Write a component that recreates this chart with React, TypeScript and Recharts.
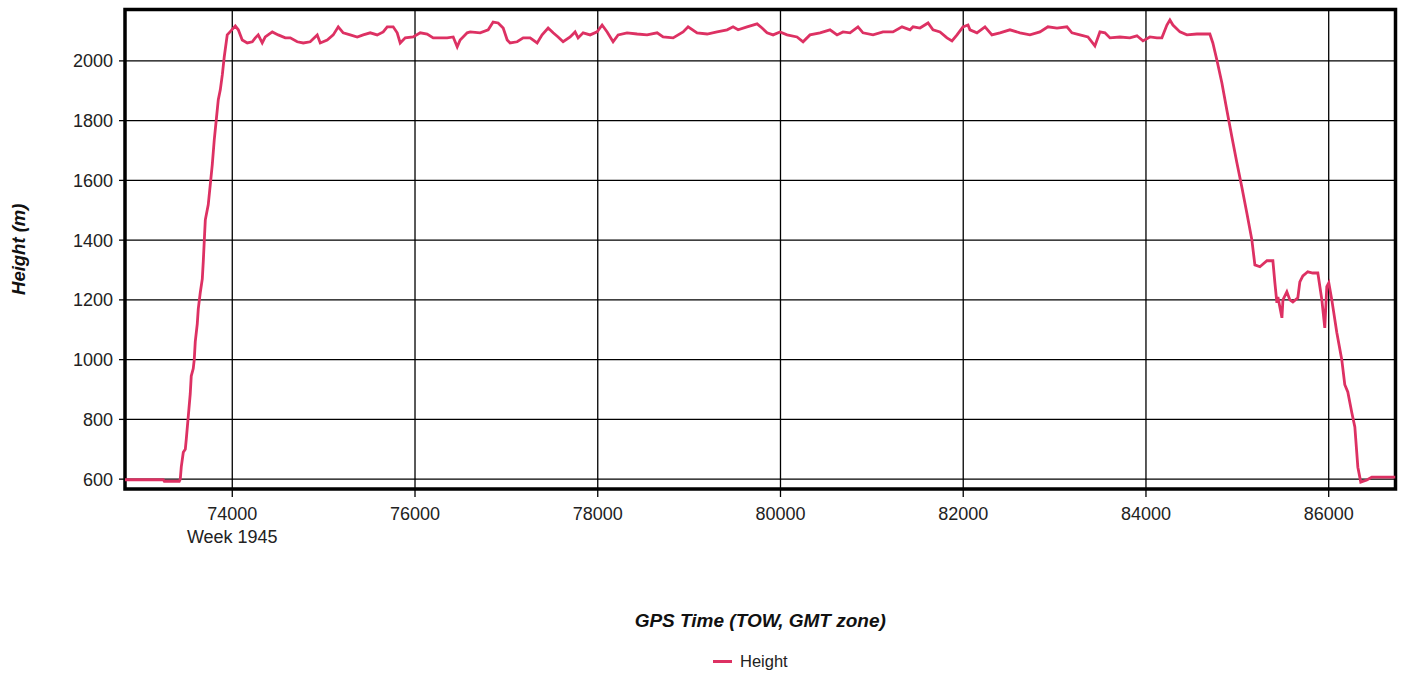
import React from 'react'
import { LineChart, Line, XAxis, YAxis, CartesianGrid, ReferenceArea, Label } from 'recharts'

// GPS time of week (s) and height (m)
const times = [
  72826, 73245, 73256, 73420, 73431, 73442, 73464, 73486, 73497, 73519, 73540, 73551, 73573, 73584,
  73595, 73617, 73628, 73650, 73672, 73683, 73694, 73705, 73737, 73759, 73781, 73803, 73825, 73847,
  73869, 73891, 73912, 73945, 73978, 74033, 74066, 74109, 74164, 74219, 74252, 74284, 74328, 74361,
  74438, 74503, 74580, 74635, 74711, 74777, 74853, 74930, 74963, 75039, 75105, 75160, 75214, 75291,
  75368, 75433, 75510, 75586, 75652, 75696, 75761, 75805, 75838, 75893, 75980, 76057, 76133, 76199,
  76276, 76352, 76418, 76462, 76494, 76571, 76604, 76713, 76801, 76855, 76910, 76965, 77009, 77041,
  77118, 77184, 77260, 77337, 77391, 77457, 77512, 77566, 77621, 77698, 77752, 77785, 77840, 77917,
  77993, 78048, 78103, 78168, 78223, 78321, 78431, 78540, 78650, 78715, 78825, 78934, 78989, 79087,
  79197, 79306, 79416, 79481, 79536, 79634, 79744, 79798, 79853, 79919, 79995, 80072, 80181, 80247,
  80323, 80433, 80542, 80619, 80684, 80761, 80848, 80903, 81013, 81122, 81231, 81330, 81418, 81451,
  81527, 81615, 81669, 81746, 81822, 81877, 81932, 81997, 82052, 82074, 82150, 82238, 82314, 82402,
  82511, 82621, 82730, 82840, 82927, 83026, 83135, 83190, 83277, 83365, 83441, 83496, 83551, 83606,
  83715, 83824, 83901, 83967, 84043, 84120, 84174, 84229, 84262, 84295, 84372, 84448, 84557, 84699,
  84732, 84776, 84831, 84885, 84940, 84995, 85049, 85104, 85159, 85192, 85247, 85324, 85389, 85411,
  85433, 85444, 85488, 85499, 85542, 85575, 85608, 85662, 85684, 85717, 85771, 85826, 85881, 85925,
  85957, 85979, 86001, 86034, 86089, 86143, 86176, 86209, 86253, 86286, 86319, 86351, 86417, 86472,
  86731,
]
const heights = [
  598, 598, 593, 593, 600, 641, 690, 700, 735, 812, 885, 945, 970, 1000,
  1060, 1120, 1170, 1225, 1270, 1330, 1400, 1468, 1518, 1585, 1652, 1736, 1803, 1870,
  1903, 1953, 2013, 2087, 2098, 2117, 2104, 2070, 2060, 2064, 2077, 2087, 2060, 2080,
  2097, 2087, 2077, 2077, 2064, 2060, 2064, 2087, 2060, 2070, 2087, 2114, 2094, 2087,
  2080, 2087, 2094, 2087, 2097, 2114, 2114, 2094, 2060, 2077, 2080, 2094, 2090, 2077,
  2077, 2077, 2080, 2047, 2070, 2094, 2097, 2094, 2104, 2130, 2127, 2110, 2070, 2060,
  2064, 2077, 2077, 2060, 2087, 2110, 2094, 2080, 2064, 2080, 2097, 2077, 2094, 2087,
  2097, 2120, 2097, 2064, 2087, 2094, 2090, 2087, 2094, 2080, 2077, 2097, 2114, 2094,
  2090, 2097, 2104, 2114, 2104, 2114, 2124, 2110, 2094, 2087, 2097, 2087, 2080, 2064,
  2087, 2094, 2104, 2087, 2097, 2094, 2114, 2094, 2087, 2097, 2097, 2114, 2104, 2114,
  2110, 2127, 2104, 2097, 2077, 2067, 2087, 2114, 2120, 2104, 2094, 2114, 2087, 2094,
  2104, 2094, 2087, 2097, 2114, 2110, 2114, 2094, 2087, 2080, 2050, 2097, 2094, 2077,
  2080, 2077, 2084, 2067, 2080, 2077, 2077, 2120, 2137, 2120, 2097, 2087, 2090, 2090,
  2060, 2003, 1926, 1836, 1746, 1659, 1578, 1491, 1401, 1317, 1311, 1331, 1331, 1257,
  1190, 1210, 1140, 1200, 1227, 1200, 1193, 1207, 1260, 1280, 1294, 1290, 1290, 1200,
  1106, 1244, 1257, 1200, 1090, 1000, 916, 892, 822, 775, 640, 590, 597, 607,
  607,
]
const xTicks = [74000, 76000, 78000, 80000, 82000, 84000, 86000]
const yTicks = [600, 800, 1000, 1200, 1400, 1600, 1800, 2000]
const weekLabel = 'Week 1945'

const data = times.map((t, i) => ({ time: t, height: heights[i] }))

const FONT = '"Liberation Sans", Arial, sans-serif'
const LINE_COLOR = '#DD3163'
const X_DOMAIN: [number, number] = [72826, 86731]
const Y_DOMAIN: [number, number] = [567, 2172]

const TimeTick = (props: any) => {
  const { x, y, payload } = props
  return (
    <g>
      <text x={x} y={y + 13} textAnchor="middle" fill="#222" fontSize={18} fontFamily={FONT}>
        {payload.value}
      </text>
      {payload.value === xTicks[0] && (
        <text x={x} y={y + 36} textAnchor="middle" fill="#222" fontSize={18} fontFamily={FONT}>
          {weekLabel}
        </text>
      )}
    </g>
  )
}

const App = () => {
  return (
    <div style={{ position: 'absolute', left: 0, top: 0, width: 1403, height: 675, background: '#fff' }}>
      <LineChart
        width={1403}
        height={675}
        data={data}
        margin={{ top: 9.5, right: 7.5, left: 0, bottom: 46 }}
      >
        <CartesianGrid stroke="#000" strokeWidth={1.3} />
        <XAxis
          dataKey="time"
          type="number"
          domain={X_DOMAIN}
          ticks={xTicks}
          allowDataOverflow
          height={140}
          tickSize={8}
          tickMargin={10}
          axisLine={false}
          tickLine={{ stroke: '#000', strokeWidth: 1.3 }}
          tick={<TimeTick />}
        >
          <Label
            content={({ viewBox }: any) => (
              <text
                x={viewBox.x + viewBox.width / 2}
                y={viewBox.y + 138}
                textAnchor="middle"
                fontSize={19}
                fontWeight="bold"
                fontStyle="italic"
                fontFamily={FONT}
                fill="#111"
              >
                GPS Time (TOW, GMT zone)
              </text>
            )}
          />
        </XAxis>
        <YAxis
          type="number"
          domain={Y_DOMAIN}
          ticks={yTicks}
          allowDataOverflow
          width={125}
          tickSize={6}
          tickMargin={6}
          axisLine={false}
          tickLine={{ stroke: '#000', strokeWidth: 1.3 }}
          tick={{ fill: '#222', fontSize: 18, fontFamily: FONT }}
        >
          <Label
            content={({ viewBox }: any) => {
              const cx = viewBox.x + 18
              const cy = viewBox.y + viewBox.height / 2
              return (
                <text
                  x={cx}
                  y={cy}
                  transform={`rotate(-90, ${cx}, ${cy})`}
                  textAnchor="middle"
                  dominantBaseline="central"
                  fontSize={18.5}
                  fontWeight="bold"
                  fontStyle="italic"
                  fontFamily={FONT}
                  fill="#111"
                >
                  Height (m)
                </text>
              )
            }}
          />
        </YAxis>
        <Line
          type="linear"
          dataKey="height"
          name="Height"
          stroke={LINE_COLOR}
          strokeWidth={2.8}
          dot={false}
          activeDot={false}
          isAnimationActive={false}
        />
        <ReferenceArea
          x1={X_DOMAIN[0]}
          x2={X_DOMAIN[1]}
          y1={Y_DOMAIN[0]}
          y2={Y_DOMAIN[1]}
          fill="none"
          fillOpacity={0}
          stroke="#000"
          strokeWidth={3.5}
          ifOverflow="visible"
        />
      </LineChart>
      {/* legend */}
      <div
        style={{
          position: 'absolute',
          left: 713,
          top: 652,
          display: 'flex',
          alignItems: 'center',
          fontFamily: FONT,
          fontSize: 16.5,
          color: '#222',
        }}
      >
        <span style={{ display: 'inline-block', width: 19, height: 3, background: LINE_COLOR, marginRight: 8 }} />
        <span>Height</span>
      </div>
    </div>
  )
}

export default App
